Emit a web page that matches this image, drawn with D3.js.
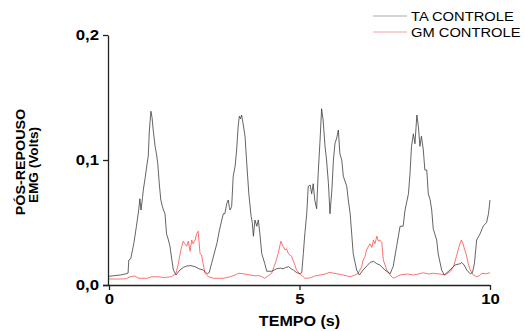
<!DOCTYPE html>
<html>
<head>
<meta charset="utf-8">
<script src="https://cdn.jsdelivr.net/npm/d3@7"></script>
<style>
  html, body { margin: 0; padding: 0; background: #fff; }
  svg { display: block; }
  text { font-family: "Liberation Sans", Arial, sans-serif; fill: #000; }
</style>
</head>
<body>
<svg id="chart" width="525" height="331"></svg>
<script>
// ---- data ----
const taTime = [0.00,0.15,0.30,0.45,0.50,0.52,0.57,0.65,0.72,0.78,0.81,0.84,0.88,0.90,0.95,0.99,1.03,1.06,1.10,1.13,1.16,1.21,1.25,1.28,1.32,1.36,1.40,1.43,1.47,1.51,1.56,1.60,1.65,1.69,1.76,1.86,1.95,2.04,2.15,2.26,2.36,2.47,2.58,2.63,2.69,2.76,2.83,2.90,2.96,3.00,3.04,3.09,3.13,3.16,3.18,3.22,3.26,3.31,3.35,3.39,3.42,3.45,3.48,3.52,3.57,3.61,3.67,3.73,3.76,3.79,3.83,3.88,3.92,3.96,4.01,4.09,4.14,4.27,4.40,4.50,4.57,4.64,4.71,4.78,4.84,4.92,5.01,5.06,5.10,5.14,5.19,5.23,5.28,5.32,5.36,5.40,5.45,5.49,5.54,5.58,5.62,5.67,5.71,5.76,5.80,5.85,5.89,5.93,5.98,6.02,6.06,6.11,6.15,6.24,6.28,6.33,6.37,6.41,6.50,6.57,6.67,6.76,6.85,6.94,7.03,7.11,7.24,7.38,7.46,7.55,7.64,7.72,7.77,7.86,7.90,7.94,7.99,8.03,8.08,8.12,8.16,8.20,8.25,8.29,8.34,8.38,8.43,8.47,8.51,8.60,8.64,8.73,8.80,8.95,9.08,9.21,9.26,9.32,9.39,9.48,9.54,9.59,9.65,9.74,9.82,9.91,9.96,10.00];
const taVolts = [0.007,0.0075,0.008,0.009,0.0095,0.020,0.021,0.033,0.047,0.060,0.069,0.060,0.070,0.076,0.086,0.095,0.103,0.124,0.139,0.134,0.124,0.111,0.104,0.097,0.081,0.068,0.063,0.060,0.057,0.041,0.036,0.031,0.020,0.012,0.008,0.012,0.014,0.0152,0.0155,0.0146,0.013,0.012,0.009,0.010,0.017,0.025,0.033,0.044,0.052,0.057,0.057,0.065,0.068,0.062,0.060,0.063,0.087,0.095,0.108,0.127,0.135,0.133,0.136,0.129,0.119,0.100,0.073,0.055,0.050,0.039,0.052,0.047,0.052,0.041,0.025,0.017,0.011,0.011,0.013,0.0135,0.013,0.014,0.0147,0.013,0.012,0.010,0.009,0.010,0.025,0.041,0.057,0.079,0.080,0.073,0.081,0.068,0.061,0.089,0.116,0.141,0.132,0.111,0.100,0.081,0.057,0.076,0.100,0.113,0.118,0.124,0.105,0.100,0.087,0.079,0.068,0.057,0.041,0.025,0.012,0.008,0.012,0.015,0.018,0.019,0.017,0.016,0.012,0.009,0.015,0.031,0.047,0.047,0.060,0.073,0.089,0.111,0.121,0.113,0.136,0.127,0.111,0.119,0.108,0.092,0.092,0.073,0.068,0.060,0.045,0.036,0.025,0.012,0.008,0.012,0.016,0.017,0.018,0.016,0.012,0.009,0.010,0.017,0.036,0.041,0.047,0.050,0.057,0.068];

const gmTime = [0.00,0.30,0.45,0.55,0.68,0.78,1.00,1.12,1.30,1.45,1.64,1.76,1.82,1.88,1.91,1.95,1.99,2.04,2.08,2.13,2.17,2.21,2.26,2.30,2.34,2.39,2.43,2.47,2.52,2.61,2.74,3.00,3.18,3.31,3.40,3.57,3.70,3.83,3.96,4.09,4.18,4.27,4.36,4.44,4.51,4.57,4.62,4.66,4.71,4.79,4.88,4.92,5.01,5.10,5.14,5.27,5.40,5.54,5.67,5.80,5.89,6.02,6.15,6.33,6.46,6.54,6.63,6.67,6.72,6.76,6.81,6.85,6.90,6.94,6.98,7.03,7.07,7.11,7.16,7.20,7.29,7.38,7.46,7.55,7.64,7.81,7.99,8.12,8.25,8.38,8.51,8.69,8.82,8.95,9.04,9.12,9.21,9.25,9.29,9.34,9.38,9.43,9.48,9.56,9.65,9.72,9.78,9.90,10.00];
const gmVolts = [0.0048,0.0048,0.005,0.0066,0.0072,0.0054,0.0054,0.0066,0.0066,0.0060,0.0066,0.0094,0.017,0.027,0.031,0.035,0.033,0.031,0.035,0.027,0.036,0.033,0.036,0.041,0.043,0.025,0.024,0.017,0.0094,0.0066,0.0054,0.0054,0.0066,0.008,0.0094,0.0088,0.0080,0.0074,0.0074,0.0054,0.0074,0.0094,0.017,0.025,0.035,0.031,0.028,0.029,0.025,0.023,0.016,0.012,0.0088,0.0066,0.0054,0.0056,0.0072,0.008,0.0088,0.0102,0.0094,0.0088,0.008,0.0066,0.008,0.0094,0.0146,0.020,0.023,0.028,0.031,0.033,0.030,0.036,0.033,0.039,0.035,0.036,0.034,0.020,0.012,0.008,0.0054,0.0066,0.008,0.0088,0.008,0.0088,0.0098,0.0088,0.0094,0.0088,0.008,0.0106,0.0146,0.023,0.033,0.036,0.033,0.028,0.024,0.017,0.012,0.008,0.0066,0.0075,0.0094,0.0090,0.0098];

const seriesNames = ["TA CONTROLE", "GM CONTROLE"];
const seriesColors = ["#3c3c3c", "#ff4d4d"];
const legendColors = ["#a8a8a8", "#f7a0a0"];
const xTicks = [0, 5, 10];
const xTickLabels = ["0", "5", "10"];
const yTicks = [0, 0.1, 0.2];
const yTickLabels = ["0,0", "0,1", "0,2"];
const xTitle = "TEMPO (s)";
const yTitleLines = ["PÓS-REPOUSO", "EMG (Volts)"];

// ---- layout ----
const svg = d3.select("#chart");
const x = d3.scaleLinear().domain([0, 10]).range([109, 490]);
const y = d3.scaleLinear().domain([0, 0.2]).range([285, 35]);
const axisColor = "#222";

// axes
const gx = svg.append("g").attr("transform", `translate(0,${y(0)})`)
  .call(d3.axisBottom(x).tickValues(xTicks).tickFormat((d, i) => xTickLabels[i]).tickSize(5).tickSizeOuter(0).tickPadding(4));
gx.select(".domain").attr("d", `M${x(0) - 6},0.5H${x(10)}`).attr("stroke", axisColor).attr("stroke-width", 1.3);
gx.selectAll(".tick line").attr("stroke", axisColor).attr("stroke-width", 1.3);
gx.selectAll(".tick text")
  .style("font-family", '"Liberation Sans", Arial, sans-serif')
  .style("font-weight", "bold").style("font-size", "14px").attr("fill", "#000")
  .attr("transform", "scale(1.2,1)")
  .attr("x", 0);

const gy = svg.append("g").attr("transform", `translate(${x(0) - 1},0)`)
  .call(d3.axisLeft(y).tickValues(yTicks).tickFormat((d, i) => yTickLabels[i]).tickSize(5).tickSizeOuter(0).tickPadding(4));
gy.select(".domain").attr("stroke", axisColor).attr("stroke-width", 1.3);
gy.selectAll(".tick line").attr("stroke", axisColor).attr("stroke-width", 1.3);
gy.selectAll(".tick text")
  .style("font-family", '"Liberation Sans", Arial, sans-serif')
  .style("font-weight", "bold").style("font-size", "14px").attr("fill", "#000")
  .attr("x", 0)
  .attr("transform", "translate(-9,0) scale(1.2,1)");

// x title
svg.append("text")
  .attr("transform", `translate(${(x(0) + x(10)) / 2},326) scale(1.15,1)`)
  .attr("text-anchor", "middle")
  .style("font-weight", "bold").style("font-size", "14px")
  .text(xTitle);

// y title (two lines, rotated)
const yTitleScale = [1.1, 1.05];
const yTitle = svg.append("g").attr("transform", `translate(0,${(y(0) + y(0.2)) / 2})`);
yTitleLines.forEach((t, i) => {
  yTitle.append("text")
    .attr("transform", `translate(${25 + i * 13},${2 + i * 3}) rotate(-90) scale(${yTitleScale[i]},1)`)
    .attr("text-anchor", "middle")
    .style("font-weight", "bold").style("font-size", "13px")
    .text(t);
});

// lines
const line = d3.line().x(d => x(d[0])).y(d => y(d[1]));
const taData = taTime.map((t, i) => [t, taVolts[i]]);
const gmData = gmTime.map((t, i) => [t, gmVolts[i]]);

svg.append("path").datum(gmData).attr("d", line)
  .attr("fill", "none").attr("stroke", seriesColors[1]).attr("stroke-width", 0.8);
svg.append("path").datum(taData).attr("d", line)
  .attr("fill", "none").attr("stroke", seriesColors[0]).attr("stroke-width", 0.8);

// legend
const legend = svg.append("g").attr("transform", "translate(373,16)");
seriesNames.forEach((name, i) => {
  const g = legend.append("g").attr("transform", `translate(0,${i * 16})`);
  g.append("line").attr("x1", 0).attr("x2", 34).attr("y1", 0).attr("y2", 0)
    .attr("stroke", legendColors[i]).attr("stroke-width", 1);
  g.append("text").attr("transform", "translate(38,5) scale(1.15,1)")
    .style("font-size", "12.8px").text(name);
});
</script>
</body>
</html>
